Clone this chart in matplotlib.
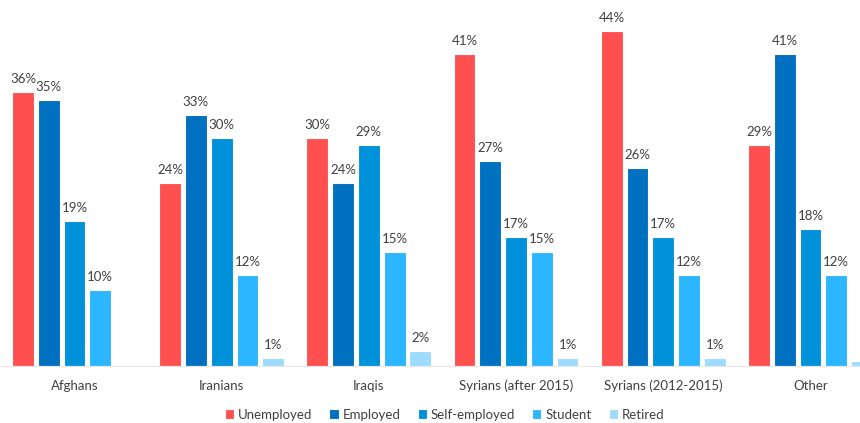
import numpy as np
import matplotlib.pyplot as plt

plt.rcParams['font.family'] = ['Lato', 'DejaVu Sans']

groups = ['Afghans', 'Iranians', 'Iraqis', 'Syrians (after 2015)',
          'Syrians (2012-2015)', 'Other']
series = ['Unemployed', 'Employed', 'Self-employed', 'Student', 'Retired']
unemployed = [36, 24, 30, 41, 44, 29]
employed = [35, 33, 24, 27, 26, 41]
self_employed = [19, 30, 29, 17, 17, 18]
student = [10, 12, 15, 15, 12, 12]
retired = [0, 1, 2, 1, 1, 0.7]
# retired share for "Other" is too small to be labelled
retired_labels = [None, '1%', '2%', '1%', '1%', None]

colors = ['#FF5050', '#0070C0', '#0091DB', '#2BB6FF', '#9DDCFF']
values = [unemployed, employed, self_employed, student, retired]

fig = plt.figure(figsize=(8.6, 4.23), dpi=100)
# plot area runs a little past the right edge, so the last bar is cut
ax = fig.add_axes([0.001, 0.135, 1.027, 0.863])

x = np.arange(len(groups))
slot = 0.175
offsets = (np.arange(len(series)) - 2) * slot
for i, (name, vals, c) in enumerate(zip(series, values, colors)):
    bars = ax.bar(x + offsets[i], vals, width=0.148, color=c,
                  edgecolor='white', linewidth=0.8, label=name)
    for j, b in enumerate(bars):
        if i == 4:
            txt = retired_labels[j]
        else:
            txt = f'{vals[j]}%'
        if txt:
            ax.annotate(txt, (b.get_x() + b.get_width() / 2, b.get_height()),
                        xytext=(0, 5), textcoords='offset points',
                        ha='center', va='bottom', fontsize=9.5,
                        color='#404040')

ax.set_xlim(-0.5, 5.5)
ax.set_ylim(0, 48)
ax.set_xticks(x)
ax.set_xticklabels(groups, fontsize=9.5, color='#404040')
ax.tick_params(axis='x', length=0, pad=10)
ax.set_yticks([])
for s in ['top', 'left', 'right']:
    ax.spines[s].set_visible(False)
ax.spines['bottom'].set_color('#E6E6E6')

fig.legend(loc='center', bbox_to_anchor=(0.517, 0.02), ncol=5,
           frameon=False, fontsize=9.5, handlelength=0.7, handleheight=0.7,
           handletextpad=0.3, columnspacing=1.3, labelcolor='#404040')

fig.savefig('out.png', dpi=100)
